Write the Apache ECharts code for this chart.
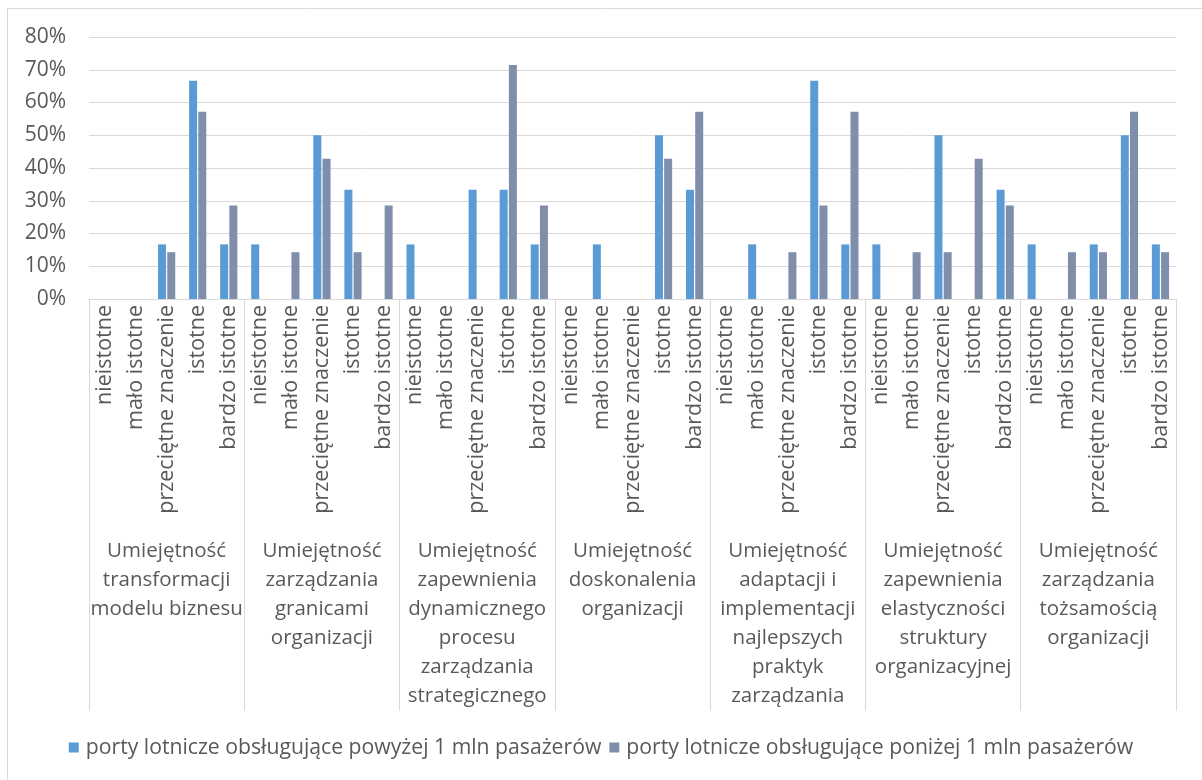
<!DOCTYPE html>
<html>
<head>
<meta charset="utf-8">
<script src="https://cdn.jsdelivr.net/npm/echarts@6/dist/echarts.min.js"></script>
<style>
  html, body { margin: 0; padding: 0; background: #fff; }
  #chart { width: 1202px; height: 780px; }
</style>
</head>
<body>
<div id="chart"></div>
<script>
// Rating levels repeated inside each competence group
const levels = ['nieistotne', 'mało istotne', 'przeciętne znaczenie', 'istotne', 'bardzo istotne'];

// Competence groups (second level of the category axis)
const groups = [
  'Umiejętność\ntransformacji\nmodelu biznesu',
  'Umiejętność\nzarządzania\ngranicami\norganizacji',
  'Umiejętność\nzapewnienia\ndynamicznego\nprocesu\nzarządzania\nstrategicznego',
  'Umiejętność\ndoskonalenia\norganizacji',
  'Umiejętność\nadaptacji i\nimplementacji\nnajlepszych\npraktyk\nzarządzania',
  'Umiejętność\nzapewnienia\nelastyczności\nstruktury\norganizacyjnej',
  'Umiejętność\nzarządzania\ntożsamością\norganizacji'
];

const seriesNames = [
  'porty lotnicze obsługujące powyżej 1 mln pasażerów',
  'porty lotnicze obsługujące poniżej 1 mln pasażerów'
];

// Share of answers (%), five levels per group, groups in order
const largePorts = [
  0, 0, 16.67, 66.67, 16.67,
  16.67, 0, 50.0, 33.33, 0,
  16.67, 0, 33.33, 33.33, 16.67,
  0, 16.67, 0, 50.0, 33.33,
  0, 16.67, 0, 66.67, 16.67,
  16.67, 0, 50.0, 0, 33.33,
  16.67, 0, 16.67, 50.0, 16.67
];
const smallPorts = [
  0, 0, 14.29, 57.14, 28.57,
  0, 14.29, 42.86, 14.29, 28.57,
  0, 0, 0, 71.43, 28.57,
  0, 0, 0, 42.86, 57.14,
  0, 0, 14.29, 28.57, 57.14,
  0, 14.29, 14.29, 42.86, 28.57,
  0, 14.29, 14.29, 57.14, 14.29
];

const yTicks = { min: 0, max: 80, step: 10 };

const categories = [];
groups.forEach(() => levels.forEach(l => categories.push(l)));

const font = '"Open Sans", Lato, "DejaVu Sans", sans-serif';
const textColor = '#595959';
const lineColor = '#d9d9d9';

const chart = echarts.init(document.getElementById('chart'), null, { renderer: 'canvas' });

chart.setOption({
  backgroundColor: '#ffffff',
  animation: false,
  textStyle: { fontFamily: font },
  graphic: [{
    type: 'rect',
    shape: { x: 7.5, y: 8.5, width: 1300, height: 900 },
    style: { fill: 'none', stroke: lineColor, lineWidth: 1 },
    silent: true,
    z: -1
  }],
  grid: { left: 89, right: 26, top: 37, bottom: 481, containLabel: false },
  legend: {
    bottom: 17,
    left: 'center',
    itemWidth: 10,
    itemHeight: 10,
    itemGap: 8,
    icon: 'rect',
    textStyle: { fontFamily: font, fontSize: 21.2, color: textColor, padding: [0, 0, 0, 2] },
    data: seriesNames
  },
  xAxis: [
    {
      type: 'category',
      data: categories,
      position: 'bottom',
      axisLine: { show: true, lineStyle: { color: lineColor, width: 1 } },
      axisTick: { show: false },
      axisLabel: {
        interval: 0,
        rotate: 90,
        margin: 6,
        fontSize: 21.5,
        color: textColor,
        fontFamily: font
      }
    },
    {
      type: 'category',
      data: groups,
      position: 'bottom',
      axisLine: { show: false },
      axisTick: { show: true, length: 412, lineStyle: { color: lineColor, width: 1 } },
      axisLabel: {
        interval: 0,
        margin: 238,
        fontSize: 20.5,
        lineHeight: 29,
        color: textColor,
        fontFamily: font,
        align: 'center'
      }
    }
  ],
  yAxis: {
    type: 'value',
    min: yTicks.min,
    max: yTicks.max,
    interval: yTicks.step,
    axisLine: { show: false },
    axisTick: { show: false },
    splitLine: { lineStyle: { color: lineColor, width: 1 } },
    axisLabel: {
      formatter: '{value}%',
      fontSize: 21,
      color: textColor,
      margin: 23,
      fontFamily: font
    }
  },
  series: [
    {
      name: seriesNames[0],
      type: 'bar',
      xAxisIndex: 0,
      data: largePorts,
      barWidth: 8,
      barGap: '15%',
      itemStyle: { color: '#5b9bd5' }
    },
    {
      name: seriesNames[1],
      type: 'bar',
      xAxisIndex: 0,
      data: smallPorts,
      barWidth: 8,
      barGap: '15%',
      itemStyle: { color: '#7f8eab' }
    }
  ]
});
</script>
</body>
</html>
